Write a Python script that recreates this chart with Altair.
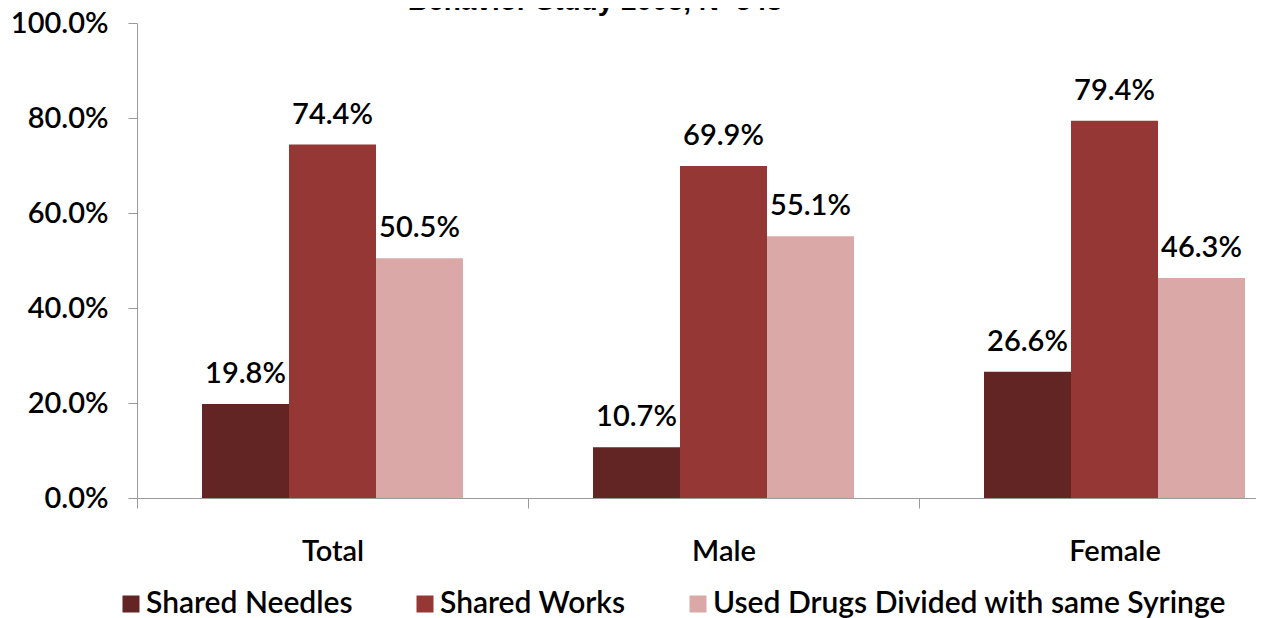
import altair as alt
import pandas as pd

groups = ["Total", "Male", "Female"]
series = ["Shared Needles", "Shared Works", "Used Drugs Divided with same Syringe"]
shared_needles = [0.198, 0.107, 0.266]
shared_works = [0.744, 0.699, 0.794]
used_divided = [0.505, 0.551, 0.463]
colors = ["#632523", "#953735", "#D9A8A7"]
title_text = "Behavior Study 2005, N=548"

rows = []
for i, g in enumerate(groups):
    for s, vals in zip(series, [shared_needles, shared_works, used_divided]):
        rows.append({"group": g, "series": s, "value": vals[i]})
df = pd.DataFrame(rows)

FONT = "Lato"
WEIGHT = 600

x_enc = alt.X(
    "group:N",
    sort=groups,
    scale=alt.Scale(range=[0, 1173], paddingInner=0, paddingOuter=0),
    axis=alt.Axis(
        title=None, labelAngle=0, tickBand="extent", tickSize=10,
        labelPadding=52, labelBaseline="alphabetic", labelFontSize=29,
        labelFont=FONT, labelFontWeight=WEIGHT, labelColor="black",
        domainColor="#9A9A9A", tickColor="#9A9A9A", grid=False,
    ),
)
xoff = alt.XOffset("series:N", sort=series, scale=alt.Scale(paddingOuter=0.747, paddingInner=0))
y_enc = alt.Y(
    "value:Q",
    scale=alt.Scale(domain=[0, 1]),
    axis=alt.Axis(
        title=None, values=[0, 0.2, 0.4, 0.6, 0.8, 1.0], format=".1%",
        tickSize=9, labelPadding=20, labelFontSize=29, labelFont=FONT,
        labelFontWeight=WEIGHT, labelColor="black", domainColor="#9A9A9A",
        tickColor="#9A9A9A", grid=False,
    ),
)

bars = alt.Chart(df).mark_bar(stroke=None).encode(
    x=x_enc,
    xOffset=xoff,
    y=y_enc,
    color=alt.Color(
        "series:N", sort=series,
        scale=alt.Scale(domain=series, range=colors),
        legend=alt.Legend(
            title=None, orient="none", legendX=-21, legendY=566,
            direction="horizontal", columns=3, columnPadding=57,
            symbolType="square", symbolSize=289, symbolStrokeWidth=0,
            labelFontSize=30, labelFont=FONT, labelFontWeight=WEIGHT,
            labelColor="black", labelOffset=0, labelLimit=800,
        ),
    ),
)

labels = alt.Chart(df).mark_text(
    baseline="alphabetic", dy=-21, fontSize=29, font=FONT, fontWeight=WEIGHT,
    color="black",
).encode(
    x=alt.X("group:N", sort=groups),
    xOffset=alt.XOffset("series:N", sort=series),
    y=alt.Y("value:Q"),
    text=alt.Text("value:Q", format=".1%"),
)

title_df = pd.DataFrame({"t": [title_text]})
title = alt.Chart(title_df).mark_text(
    baseline="alphabetic", align="center", fontSize=28, font="Liberation Sans",
    fontWeight="bold", color="black",
).encode(x=alt.value(458), y=alt.value(-13), text="t:N")

chart = alt.layer(bars, labels, title).properties(
    width=1119, height=475,
    autosize=alt.AutoSizeParams(type="none"),
    padding={"left": 129, "top": 15, "right": 0, "bottom": 120},
).configure_view(stroke=None)

chart.save("out.html", embed_options={"renderer": "svg", "actions": False})
